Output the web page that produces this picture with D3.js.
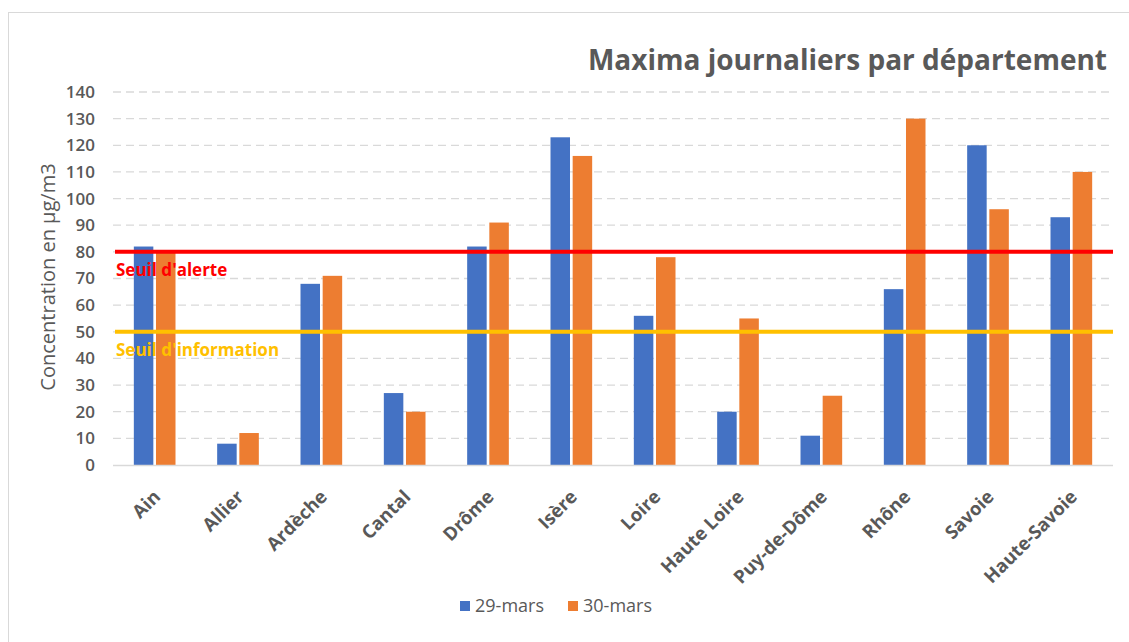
<!DOCTYPE html>
<html>
<head>
<meta charset="utf-8">
<script src="https://cdn.jsdelivr.net/npm/d3@7"></script>
<style>
  body { margin: 0; background: #fff; }
  text { font-family: "Open Sans", "Noto Sans", sans-serif; }
</style>
</head>
<body>
<div id="chart"></div>
<script>
const departements = ["Ain", "Allier", "Ardèche", "Cantal", "Drôme", "Isère", "Loire",
  "Haute Loire", "Puy-de-Dôme", "Rhône", "Savoie", "Haute-Savoie"];
const series = ["29-mars", "30-mars"];
const mars29 = [82, 8, 68, 27, 82, 123, 56, 20, 11, 66, 120, 93];
const mars30 = [80, 12, 71, 20, 91, 116, 78, 55, 26, 130, 96, 110];
const yTicks = [0, 10, 20, 30, 40, 50, 60, 70, 80, 90, 100, 110, 120, 130, 140];
const seuils = [
  { label: "Seuil d'alerte", value: 80, color: "#FF0000" },
  { label: "Seuil d'information", value: 50, color: "#FFC000" }
];
const colors = ["#4472C4", "#ED7D31"];

const width = 1129;
const height = 642;
const margin = { top: 92, right: 16, bottom: 177, left: 113 };

const svg = d3.select("#chart").append("svg")
  .attr("width", width)
  .attr("height", height);

// cadre
svg.append("rect")
  .attr("x", 8.5).attr("y", 12.5)
  .attr("width", width + 10).attr("height", height + 10)
  .attr("fill", "none").attr("stroke", "#d9d9d9");

const x = d3.scaleBand().domain(departements)
  .range([margin.left, width - margin.right]).paddingInner(0.5).paddingOuter(0.25);
const xSub = d3.scaleBand().domain(series).range([0, x.bandwidth()]).paddingInner(0.12);
const y = d3.scaleLinear().domain([0, 140]).range([height - margin.bottom, margin.top]);

// grille
svg.append("g").selectAll("line")
  .data(yTicks.filter(d => d > 0))
  .join("line")
  .attr("x1", margin.left).attr("x2", width - margin.right)
  .attr("y1", d => y(d)).attr("y2", d => y(d))
  .attr("stroke", "#d9d9d9").attr("stroke-width", 1.3).attr("stroke-dasharray", "8,5");

// axe y
const yAxis = svg.append("g")
  .attr("transform", `translate(${margin.left},0)`)
  .call(d3.axisLeft(y).tickValues(yTicks).tickSize(0).tickPadding(18));
yAxis.select(".domain").remove();
yAxis.selectAll("text")
  .attr("fill", "#595959").attr("font-size", 17).attr("font-weight", 600);

// barres
const data = departements.map((d, i) => ({ dep: d, values: [mars29[i], mars30[i]] }));
svg.append("g").selectAll("g")
  .data(data)
  .join("g")
  .attr("transform", d => `translate(${x(d.dep)},0)`)
  .selectAll("rect")
  .data(d => d.values.map((v, j) => ({ key: series[j], value: v, j })))
  .join("rect")
  .attr("x", d => xSub(d.key))
  .attr("width", xSub.bandwidth())
  .attr("y", d => y(d.value))
  .attr("height", d => y(0) - y(d.value))
  .attr("fill", d => colors[d.j]);

// axe x
svg.append("line")
  .attr("x1", margin.left).attr("x2", width - margin.right)
  .attr("y1", y(0) + 0.5).attr("y2", y(0) + 0.5)
  .attr("stroke", "#d9d9d9").attr("stroke-width", 1.5);

svg.append("g").selectAll("text")
  .data(departements)
  .join("text")
  .attr("transform", d => `translate(${x(d) + x.bandwidth() / 2 + 7},${y(0) + 33}) rotate(-45)`)
  .attr("text-anchor", "end")
  .attr("font-size", 18.5).attr("font-weight", 700)
  .attr("fill", "#595959")
  .text(d => d);

// seuils
seuils.forEach(s => {
  svg.append("line")
    .attr("x1", margin.left + 2).attr("x2", width - margin.right)
    .attr("y1", y(s.value)).attr("y2", y(s.value))
    .attr("stroke", s.color).attr("stroke-width", 4);
  svg.append("text")
    .attr("x", 116).attr("y", y(s.value) + 24)
    .attr("fill", s.color).attr("font-size", 17).attr("font-weight", 700)
    .text(s.label);
});

// titre
svg.append("text")
  .attr("x", 1107).attr("y", 70)
  .attr("text-anchor", "end")
  .attr("font-size", 28).attr("font-weight", 700)
  .attr("fill", "#595959")
  .text("Maxima journaliers par département");

// titre axe y
svg.append("text")
  .attr("transform", `translate(55,277) rotate(-90)`)
  .attr("text-anchor", "middle")
  .attr("font-size", 20)
  .attr("fill", "#595959")
  .text("Concentration en µg/m3");

// légende
const legend = svg.append("g").selectAll("g")
  .data(series)
  .join("g")
  .attr("transform", (d, i) => `translate(${460 + i * 108},601)`);
legend.append("rect").attr("width", 10).attr("height", 10).attr("fill", (d, i) => colors[i]);
legend.append("text")
  .attr("x", 15).attr("y", 5).attr("dy", "0.35em")
  .attr("font-size", 18).attr("fill", "#595959")
  .text(d => d);
</script>
</body>
</html>
